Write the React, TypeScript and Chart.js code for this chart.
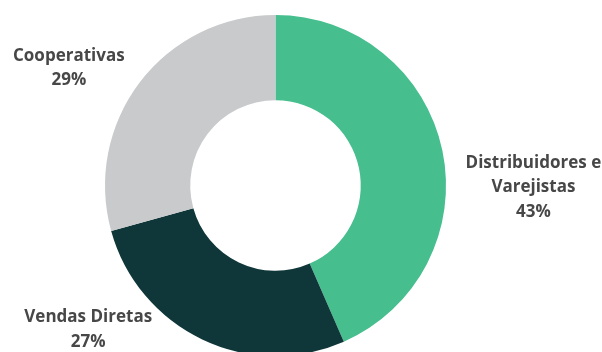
import React, { useEffect, useRef } from "react";
import { Chart, registerables } from "chart.js";

Chart.register(...registerables);

const categories = ["Distribuidores e Varejistas", "Vendas Diretas", "Cooperativas"];
const labelLines = [["Distribuidores e", "Varejistas"], ["Vendas Diretas"], ["Cooperativas"]];
const shares = [43, 27, 29];
const colors = ["#46BE8E", "#0F3739", "#C8CACB"];
// label offsets (px) from the outer mid-point of each slice
const labelNudges = [[91, 37], [-114, -10], [-71, -14]];

const labelPlugin = {
  id: "outerLabels",
  afterDatasetsDraw(chart: any) {
    const ctx = chart.ctx;
    const meta = chart.getDatasetMeta(0);
    ctx.save();
    ctx.font = "bold 17px 'Open Sans'";
    ctx.textAlign = "center";
    ctx.textBaseline = "middle";
    ctx.fillStyle = "#474747";
    const lh = 24.5;
    meta.data.forEach((arc: any, i: number) => {
      const { x, y, startAngle, endAngle, outerRadius } = arc.getProps(
        ["x", "y", "startAngle", "endAngle", "outerRadius"],
        true
      );
      const mid = (startAngle + endAngle) / 2;
      const px = x + Math.cos(mid) * outerRadius + labelNudges[i][0];
      const py = y + Math.sin(mid) * outerRadius + labelNudges[i][1];
      const lines = [...labelLines[i], shares[i] + "%"];
      lines.forEach((t, k) => {
        ctx.fillText(t, px, py + (k - (lines.length - 1) / 2) * lh);
      });
    });
    ctx.restore();
  },
};

export default function App() {
  const ref = useRef<HTMLCanvasElement | null>(null);
  useEffect(() => {
    if (!ref.current) return;
    const chart = new Chart(ref.current, {
      type: "doughnut",
      data: {
        labels: categories,
        datasets: [
          {
            data: shares,
            backgroundColor: colors,
            borderWidth: 0,
          },
        ],
      },
      options: {
        responsive: false,
        animation: false,
        cutout: "50%",
        layout: { padding: { left: 105, right: 156, top: 15, bottom: 4 } },
        plugins: {
          legend: { display: false },
          tooltip: { enabled: false },
        },
      },
      plugins: [labelPlugin],
    });
    return () => chart.destroy();
  }, []);
  return (
    <div style={{ position: "absolute", left: 0, top: 0, width: 602, height: 360, background: "#fff" }}>
      <canvas ref={ref} width={602} height={360} />
    </div>
  );
}
